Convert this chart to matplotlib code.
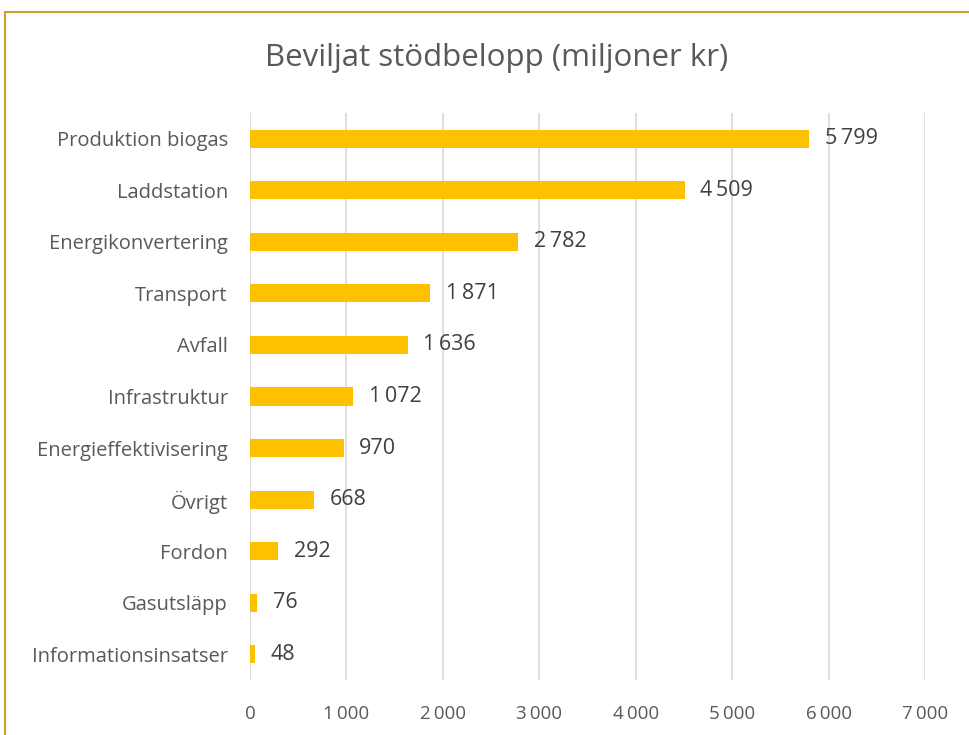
import matplotlib
matplotlib.use("Agg")
import matplotlib.pyplot as plt
from matplotlib.patches import Rectangle

categories = ["Produktion biogas", "Laddstation", "Energikonvertering", "Transport",
              "Avfall", "Infrastruktur", "Energieffektivisering", "Övrigt",
              "Fordon", "Gasutsläpp", "Informationsinsatser"]
values = [5799, 4509, 2782, 1871, 1636, 1072, 970, 668, 292, 76, 48]
xticks = [0, 1000, 2000, 3000, 4000, 5000, 6000, 7000]

TEXT = "#595959"
BAR = "#FFC000"


def fmt(v):
    # thousands separated by a thin space, as in the original
    return f"{v:,}".replace(",", "\u2009")


plt.rcParams["font.family"] = ["Open Sans", "DejaVu Sans"]

fig = plt.figure(figsize=(9.7, 7.35), dpi=100)
ax = fig.add_axes([250 / 970, 1 - 680 / 735, 675 / 970, 567 / 735])

ypos = list(range(len(categories)))
ax.barh(ypos, values, height=0.35, color=BAR, zorder=3)
for y, v in zip(ypos, values):
    ax.text(v + 160, y, fmt(v), va="center", ha="left", fontsize=15.5, color="#404040")

ax.set_xlim(0, 7000)
ax.set_ylim(len(categories) - 0.5, -0.5)
ax.set_yticks(ypos)
ax.set_yticklabels(categories, fontsize=14.5, color=TEXT)
ax.set_xticks(xticks)
ax.set_xticklabels([fmt(t) for t in xticks], fontsize=13.5, color=TEXT)
ax.tick_params(length=0)
ax.tick_params(axis="y", pad=16)
ax.tick_params(axis="x", pad=18)
ax.grid(axis="x", color="#D9D9D9", linewidth=1.2, zorder=0)
for s in ax.spines.values():
    s.set_visible(False)

fig.text(497 / 970, 1 - 58 / 735, "Beviljat stödbelopp (miljoner kr)",
         ha="center", va="center", fontsize=22.5, color=TEXT)

# chart frame (top and left edges visible)
fig.patches.append(Rectangle((5 / 970, -0.1), 1.2, 1 - 12 / 735 + 0.1,
                             transform=fig.transFigure, fill=False,
                             edgecolor="#C9A227", linewidth=1.5))

fig.savefig("out.png", dpi=100)
